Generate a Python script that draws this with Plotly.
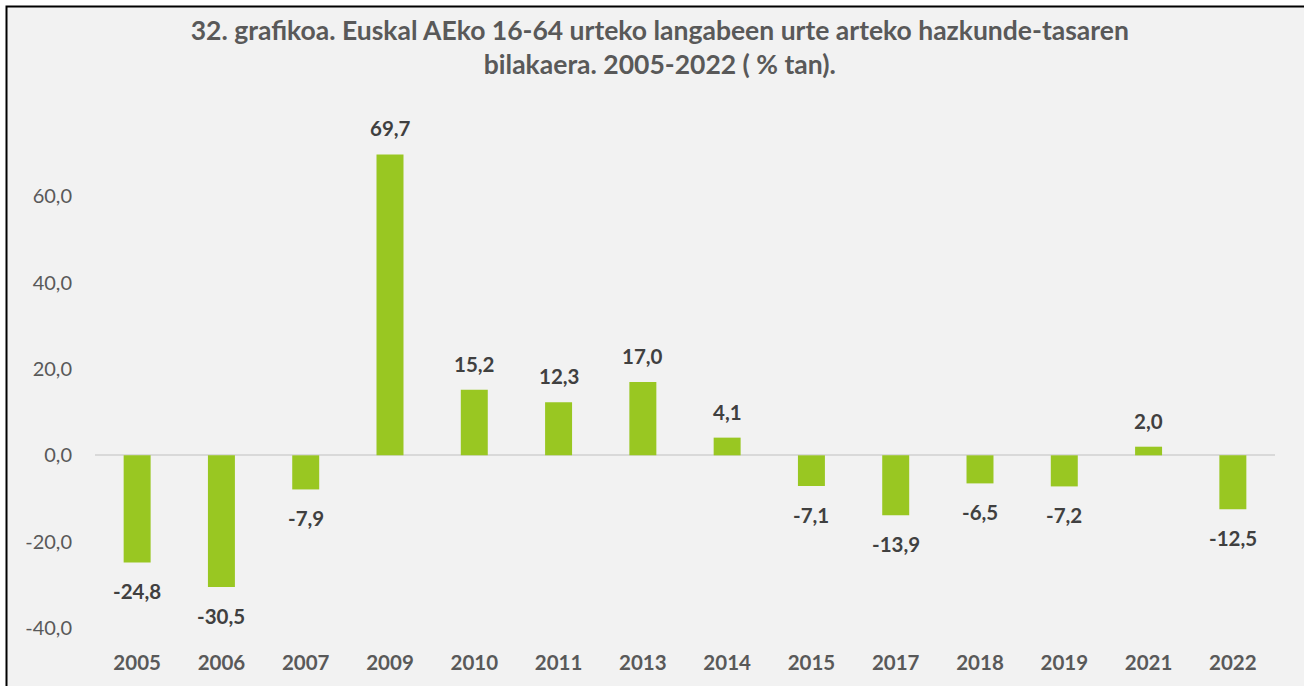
import plotly.graph_objects as go

# Annual growth rate of unemployed aged 16-64 (%)
years = ["2005", "2006", "2007", "2009", "2010", "2011", "2013",
         "2014", "2015", "2017", "2018", "2019", "2021", "2022"]
growth = [-24.8, -30.5, -7.9, 69.7, 15.2, 12.3, 17.0,
          4.1, -7.1, -13.9, -6.5, -7.2, 2.0, -12.5]
y_ticks = [-40, -20, 0, 20, 40, 60]
y_tick_labels = ["-40,0", "-20,0", "0,0", "20,0", "40,0", "60,0"]

title_text = ("32. grafikoa. Euskal AEko 16-64 urteko langabeen urte arteko hazkunde-tasaren"
              "<br>bilakaera. 2005-2022 ( % tan).")

FONT = "Lato"
BAR_GREEN = "#99c722"

W, H = 1304, 686
ML, MR, MT, MB = 95, 29, 110, 58
PW, PH = W - ML - MR, H - MT - MB


def px_to_paper_x(px):
    return (px - ML) / PW


def px_to_paper_y(py):
    return 1 - (py - MT) / PH


fig = go.Figure()
fig.add_trace(go.Bar(
    x=years, y=growth,
    marker=dict(color=BAR_GREEN, line=dict(width=0)),
    width=0.32,
    hoverinfo="x+y",
))

# value labels above positive bars and below negative ones
# (category axes take the serial index of each category)
for i, v in enumerate(growth):
    fig.add_annotation(
        x=i, y=v, xref="x", yref="y",
        text=f"{v:.1f}".replace(".", ","),
        showarrow=False, yanchor="middle",
        yshift=26 if v >= 0 else -29,
        font=dict(family=FONT, size=20.5, color="#404040", weight="bold"),
    )

# framed light-grey background
fig.add_shape(
    type="rect", xref="paper", yref="paper", layer="below",
    x0=px_to_paper_x(6.5), x1=px_to_paper_x(W + 20),
    y0=px_to_paper_y(H + 20), y1=px_to_paper_y(6.5),
    fillcolor="#f2f2f2", line=dict(color="#000000", width=2),
)

fig.update_layout(
    width=W, height=H,
    margin=dict(l=ML, r=MR, t=MT, b=MB, pad=0),
    paper_bgcolor="#ffffff",
    plot_bgcolor="rgba(0,0,0,0)",
    showlegend=False,
    title=dict(
        text=title_text, x=0.506, xanchor="center", y=1 - 40 / H, yanchor="middle",
        font=dict(family=FONT, size=26.5, color="#595959", weight="bold"),
    ),
    xaxis=dict(
        type="category", showgrid=False, showline=False, zeroline=False,
        ticks="", ticklabelstandoff=20,
        tickfont=dict(family=FONT, size=20.5, color="#595959", weight="bold"),
    ),
    yaxis=dict(
        range=[-40, 80], tickvals=y_ticks, ticktext=y_tick_labels,
        showgrid=False, showline=False, ticks="",
        zeroline=True, zerolinecolor="#d9d9d9", zerolinewidth=2,
        ticklabelstandoff=22,
        tickfont=dict(family=FONT, size=20, color="#595959"),
    ),
)

fig.write_html("out.html")
